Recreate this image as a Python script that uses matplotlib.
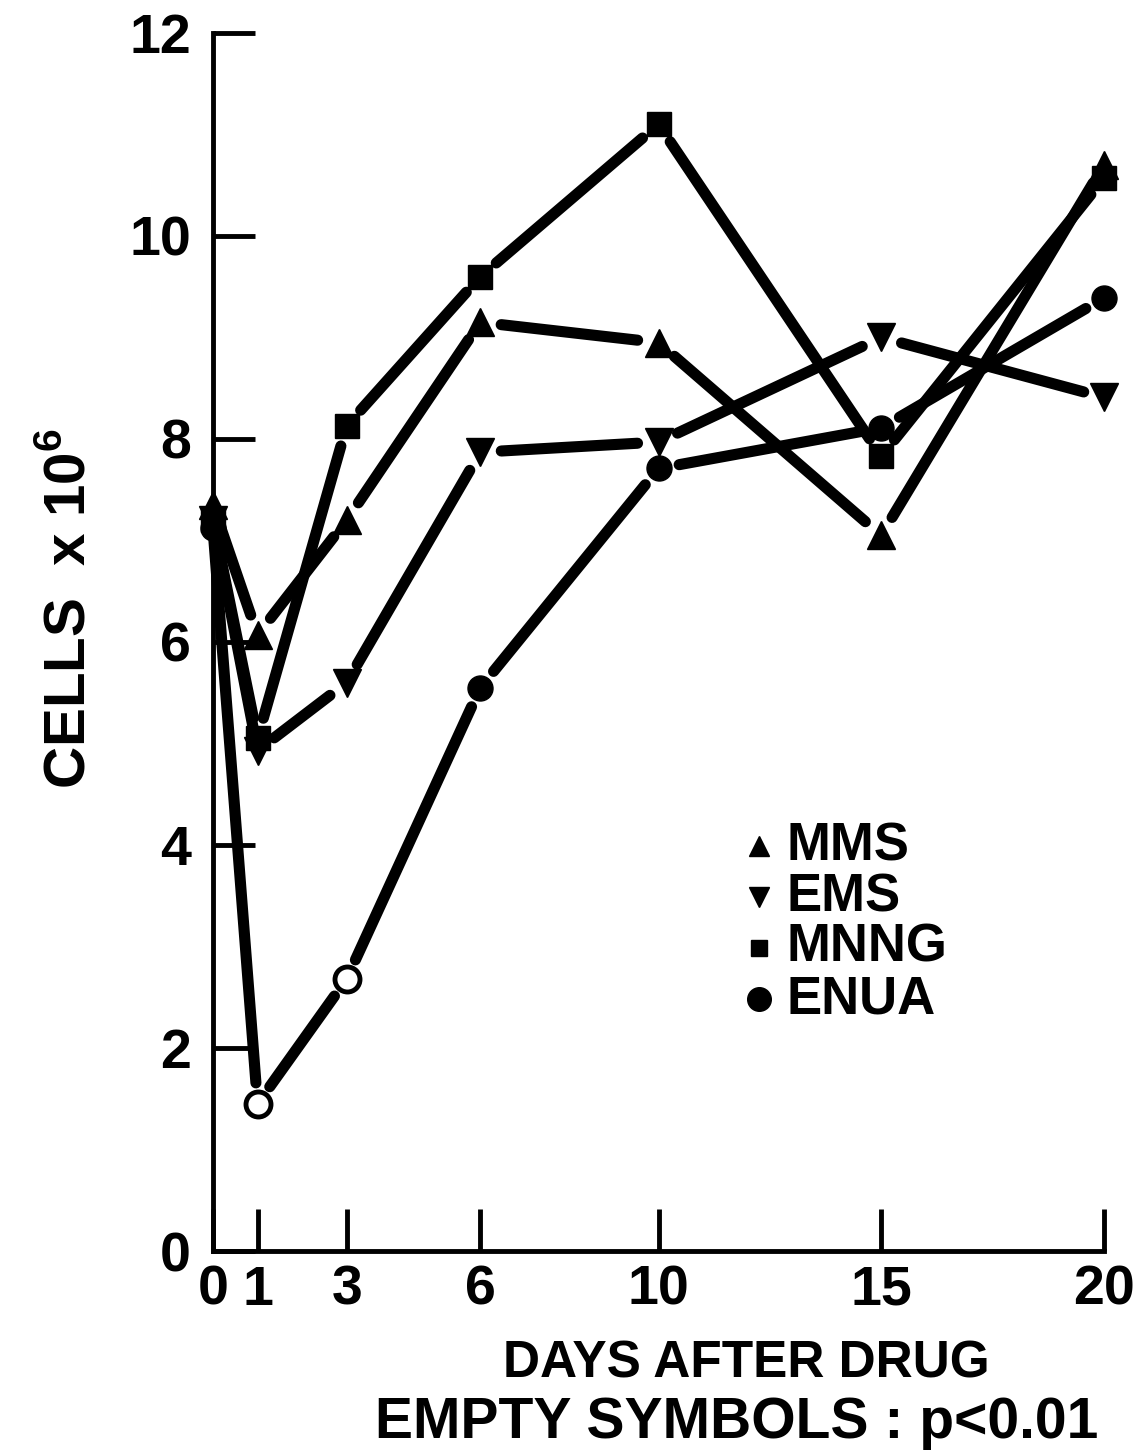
import matplotlib
matplotlib.use("Agg")
import matplotlib.pyplot as plt
import numpy as np

days = [0, 1, 3, 6, 10, 15, 20]
mms = [7.35, 6.07, 7.2, 9.15, 8.95, 7.05, 10.7]
ems = [7.2, 4.93, 5.6, 7.87, 7.97, 9.0, 8.41]
mnng = [7.2, 5.05, 8.13, 9.6, 11.1, 7.83, 10.57]
enua = [7.12, 1.45, 2.68, 5.55, 7.71, 8.11, 9.39]
enua_empty = [False, True, True, False, False, False, False]

labels = ["MMS", "EMS", "MNNG", "ENUA"]
xticks = [0, 1, 3, 6, 10, 15, 20]
yticks = [0, 2, 4, 6, 8, 10, 12]

plt.rcParams['font.family'] = ['Liberation Sans', 'DejaVu Sans']
plt.rcParams['font.weight'] = 'bold'
plt.rcParams['mathtext.fontset'] = 'custom'
plt.rcParams['mathtext.rm'] = 'Liberation Sans:bold'

W, H = 1142, 1456
fig = plt.figure(figsize=(W / 100, H / 100), dpi=100)
x0, x1 = 213, 1104
y0, y1 = 1251, 33
ax = fig.add_axes([x0 / W, 1 - y0 / H, (x1 - x0) / W, (y0 - y1) / H])
ax.set_xlim(0, 20)
ax.set_ylim(0, 12)

for s in ['top', 'right']:
    ax.spines[s].set_visible(False)
for s in ['left', 'bottom']:
    ax.spines[s].set_linewidth(3.5)
    ax.spines[s].set_capstyle('projecting')

ax.set_xticks(xticks)
ax.set_xticklabels([str(v) for v in xticks])
ax.set_yticks(yticks)
ax.set_yticklabels([str(v) for v in yticks])
ax.tick_params(axis='both', direction='in', length=30, width=3.5, labelsize=40)
ax.tick_params(axis='x', pad=10)
ax.tick_params(axis='y', pad=16)
for t in ax.get_xticklabels() + ax.get_yticklabels():
    t.set_fontweight('bold')

fig.canvas.draw()
trans = ax.transData
inv = trans.inverted()
GAP = 21
LW = 8


def draw_series(ys, marker, empty=None, ms=17):
    pts = trans.transform(np.column_stack([days, ys]))
    for i in range(len(pts) - 1):
        p, q = pts[i], pts[i + 1]
        d = q - p
        L = np.hypot(*d)
        u = d / L
        g0 = 0 if days[i] == 0 else GAP
        a = p + u * g0
        b = q - u * GAP
        seg = inv.transform(np.vstack([a, b]))
        ax.plot(seg[:, 0], seg[:, 1], color='black', lw=LW,
                solid_capstyle='round', clip_on=False, zorder=2)
    for i, (d, v) in enumerate(zip(days, ys)):
        hollow = empty[i] if empty is not None else False
        if hollow:
            ax.plot(d, v, marker=marker, ms=ms, mfc='white', mec='black',
                    mew=3.5, clip_on=False, zorder=4, ls='none')
        else:
            ax.plot(d, v, marker=marker, ms=ms, color='black',
                    clip_on=False, zorder=4, ls='none')


draw_series(mms, '^', ms=20)
draw_series(ems, 'v', ms=20)
draw_series(mnng, 's', ms=17)
draw_series(enua, 'o', enua_empty, ms=18)

# legend
leg_markers = ['^', 'v', 's', 'o']
leg_ms = [15, 15, 12, 17]
for k, (lab, mk) in enumerate(zip(labels, leg_markers)):
    yy = 846 + k * 51
    fig.lines.append(plt.Line2D([759 / W], [1 - yy / H], marker=mk,
                                ms=leg_ms[k], color='black', ls='none',
                                transform=fig.transFigure))
    fig.text(786 / W, 1 - yy / H, lab, fontsize=38, va='center', ha='left',
             fontweight='bold')

fig.text(70 / W, 1 - 608 / H, 'CELLS  x 10$^{6}$', rotation=90,
         fontsize=42, ha='center', va='center', fontweight='bold')
fig.text(746 / W, 1 - 1364 / H, 'DAYS AFTER DRUG', fontsize=37,
         ha='center', va='center', fontweight='bold')
fig.text(737 / W, 1 - 1423 / H, 'EMPTY SYMBOLS : p<0.01', fontsize=41,
         ha='center', va='center', fontweight='bold')

fig.savefig('out.png', dpi=100)
